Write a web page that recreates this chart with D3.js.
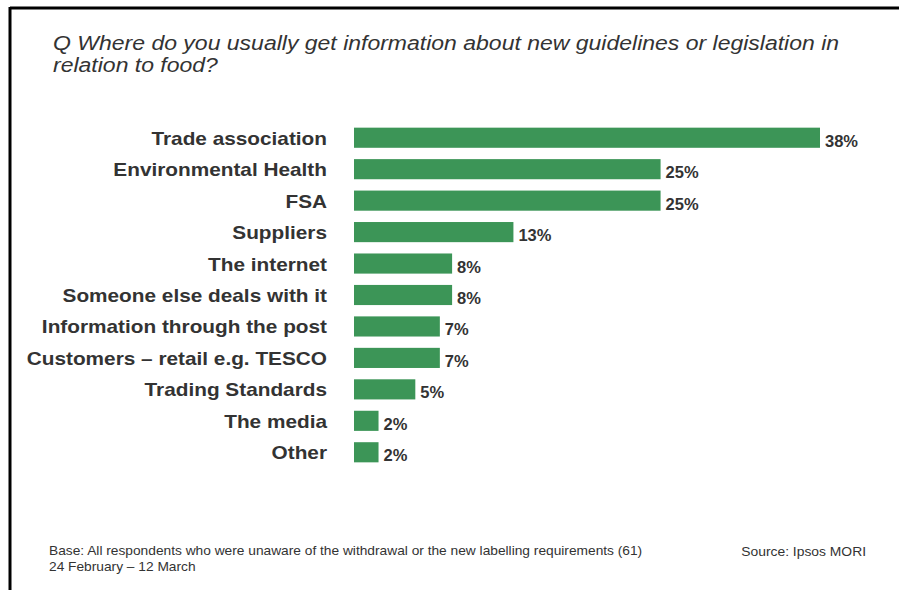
<!DOCTYPE html>
<html>
<head>
<meta charset="utf-8">
<script src="https://cdn.jsdelivr.net/npm/d3@7"></script>
<style>
  html, body { margin: 0; padding: 0; background: #fff; }
  svg { display: block; font-family: "Liberation Sans", Arial, sans-serif; }
</style>
</head>
<body>
<svg id="chart" width="899" height="590"></svg>
<script>
// Survey answers: where respondents get information on food guidelines
const categories = [
  "Trade association",
  "Environmental Health",
  "FSA",
  "Suppliers",
  "The internet",
  "Someone else deals with it",
  "Information through the post",
  "Customers \u2013 retail e.g. TESCO",
  "Trading Standards",
  "The media",
  "Other"
];
const values = [38, 25, 25, 13, 8, 8, 7, 7, 5, 2, 2];

const titleLines = [
  "Q Where do you usually get information about new guidelines or legislation in",
  "relation to food?"
];
const baseNote = [
  "Base: All respondents who were unaware of the withdrawal or the new labelling requirements (61)",
  "24 February \u2013 12 March"
];
const sourceNote = "Source: Ipsos MORI";

const svg = d3.select("#chart");
const W = 899, H = 590;
const barColor = "#3c9557";
const textColor = "#333333";

// Text in this layout is set slightly wide; place each label with a horizontal stretch
const place = (x, y, sx) => `translate(${x},${y}) scale(${sx},1)`;

// Frame lines (top and left)
svg.append("line").attr("x1", 10).attr("x2", W).attr("y1", 8).attr("y2", 8)
  .attr("stroke", "#000").attr("stroke-width", 3);
svg.append("line").attr("x1", 10).attr("x2", 10).attr("y1", 7).attr("y2", H)
  .attr("stroke", "#000").attr("stroke-width", 3);

// Title, two lines
svg.append("g").selectAll("text").data(titleLines).join("text")
  .attr("transform", (d, i) => place(53, 50 + i * 21.8, 1.18))
  .attr("font-size", 19.5)
  .attr("font-style", "italic")
  .attr("fill", textColor)
  .text(d => d);

// Scales
const x = d3.scaleLinear().domain([0, 38]).range([354, 820]);
const y = d3.scaleBand().domain(categories).range([122, 468]).paddingInner(0.36).paddingOuter(0.18);

const rows = svg.append("g").selectAll("g").data(categories).join("g");

rows.append("rect")
  .attr("x", x(0))
  .attr("y", d => y(d))
  .attr("width", (d, i) => x(values[i]) - x(0))
  .attr("height", y.bandwidth())
  .attr("fill", barColor);

rows.append("text")
  .attr("transform", d => place(327, y(d) + y.bandwidth() / 2 + 7, 1.155))
  .attr("text-anchor", "end")
  .attr("font-size", 18)
  .attr("font-weight", "bold")
  .attr("fill", textColor)
  .text(d => d);

rows.append("text")
  .attr("x", (d, i) => x(values[i]) + 5)
  .attr("y", d => y(d) + y.bandwidth() / 2 + 9)
  .attr("font-size", 16.5)
  .attr("font-weight", "bold")
  .attr("fill", textColor)
  .text((d, i) => values[i] + "%");

// Footer notes
svg.append("g").selectAll("text").data(baseNote).join("text")
  .attr("transform", (d, i) => place(49, 555 + i * 16, 1.1))
  .attr("font-size", 12.5)
  .attr("fill", textColor)
  .text(d => d);

svg.append("text")
  .attr("transform", place(866, 556, 1.11))
  .attr("text-anchor", "end")
  .attr("font-size", 12.5)
  .attr("fill", textColor)
  .text(sourceNote);
</script>
</body>
</html>
